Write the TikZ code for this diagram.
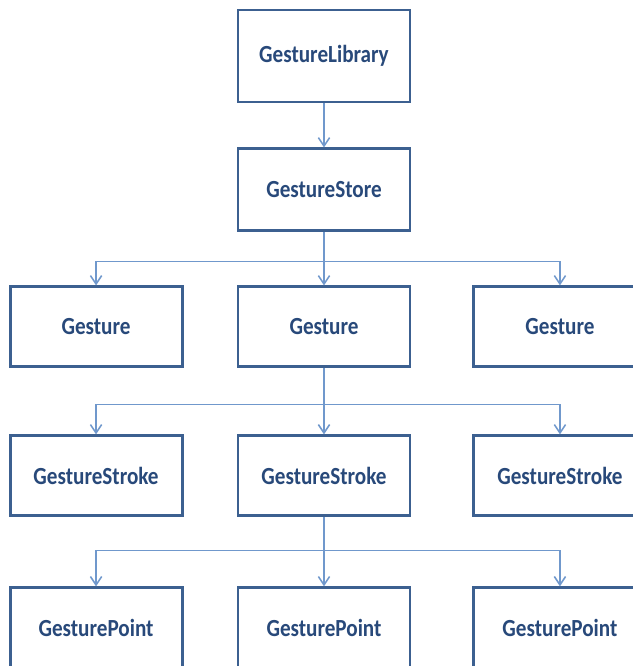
\documentclass[tikz,border=0pt]{standalone}
\usepackage{fontspec}
\setmainfont{Carlito}[FakeStretch=0.86]
\usepackage{xcolor}
\definecolor{cBox}{HTML}{3C6090}
\definecolor{cLink}{HTML}{7098CC}
\definecolor{cText}{HTML}{28497A}
\usepackage{tikz}
\usetikzlibrary{positioning,arrows.meta}
\tikzset{
  class-box/.style={draw=cBox,line width=2.1pt,fill=white,
    minimum height=20mm,minimum width=43mm,align=center,
    text=cText,font=\bfseries\fontsize{17.5}{20}\selectfont},
  arrow-link/.style={-{Straight Barb[length=6pt,width=8pt]},line width=1.1pt,draw=cLink},
}

\begin{document}
\begin{tikzpicture}
  \clip (0,0) rectangle (15.825,-16.65);
  % Bibliothek und Store
  \node[class-box,minimum height=23mm] (lib) at (8.1,-1.4) {GestureLibrary};
  \node[class-box,minimum height=20.5mm,below=11mm of lib] (store) {GestureStore};
  % Gesten
  \node[class-box,below=13.25mm of store] (g2) {Gesture};
  \node[class-box,left=13.25mm of g2] (g1) {Gesture};
  \node[class-box,right=15.25mm of g2] (g3) {Gesture};
  % Striche
  \node[class-box,below=16.5mm of g2] (s2) {GestureStroke};
  \node[class-box,left=13.25mm of s2] (s1) {GestureStroke};
  \node[class-box,right=15.25mm of s2] (s3) {GestureStroke};
  % Punkte
  \node[class-box,below=17.25mm of s2] (p2) {GesturePoint};
  \node[class-box,left=13.25mm of p2] (p1) {GesturePoint};
  \node[class-box,right=15.25mm of p2] (p3) {GesturePoint};
  % Verzweigungen
  \coordinate[below=7.25mm of store.south] (b1);
  \coordinate[below=9mm of g2.south] (b2);
  \coordinate[below=8.25mm of s2.south] (b3);
  \draw[arrow-link] (lib) -- (store);
  \draw[arrow-link] (store.south) -- (b1) -| (g1.north);
  \draw[arrow-link] (store.south) -- (g2.north);
  \draw[arrow-link] (store.south) -- (b1) -| (g3.north);
  \draw[arrow-link] (g2.south) -- (b2) -| (s1.north);
  \draw[arrow-link] (g2.south) -- (s2.north);
  \draw[arrow-link] (g2.south) -- (b2) -| (s3.north);
  \draw[arrow-link] (s2.south) -- (b3) -| (p1.north);
  \draw[arrow-link] (s2.south) -- (p2.north);
  \draw[arrow-link] (s2.south) -- (b3) -| (p3.north);
\end{tikzpicture}
\end{document}
